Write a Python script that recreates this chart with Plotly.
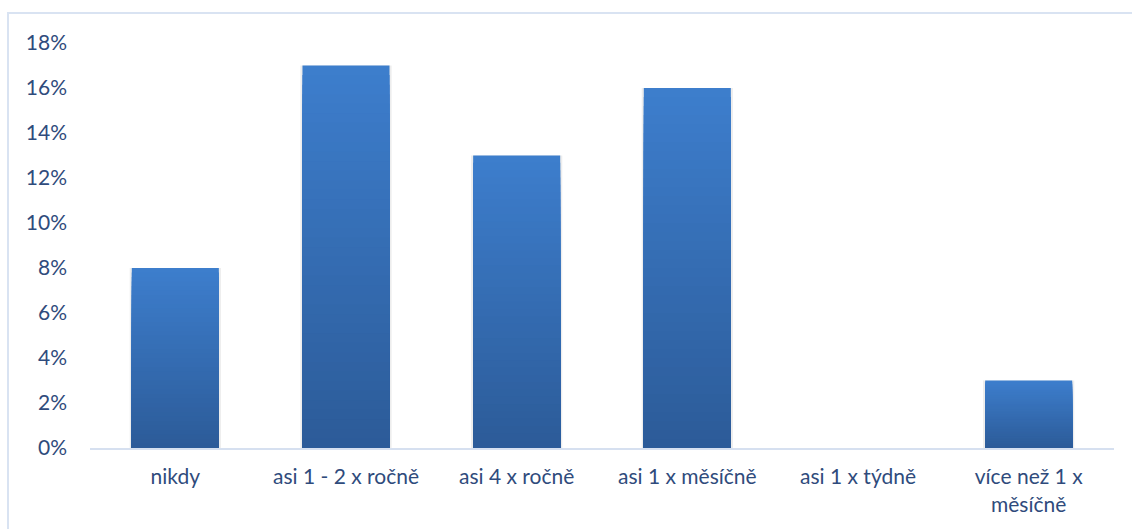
import plotly.graph_objects as go

# Survey answers: how often respondents do the activity (share of respondents)
categories = ["nikdy", "asi 1 - 2 x ročně", "asi 4 x ročně", "asi 1 x měsíčně",
              "asi 1 x týdně", "více než 1 x<br>měsíčně"]
shares = [0.08, 0.17, 0.13, 0.16, 0.0, 0.03]

y_ticks = [0, 0.02, 0.04, 0.06, 0.08, 0.10, 0.12, 0.14, 0.16, 0.18]

# Vertical gradient for the columns: dark blue at the base, lighter at the top
GRAD_BOTTOM = (44, 91, 152)
GRAD_TOP = (61, 126, 205)
N_STEPS = 40

TEXT = "#2F4B7C"
FONT = "Lato, 'Open Sans', sans-serif"
FONT_SIZE = 21

fig = go.Figure()

# soft drop shadow behind each column
fig.add_trace(go.Bar(
    x=categories, y=shares, width=0.535,
    marker=dict(color="rgba(0,0,0,0.07)", line=dict(width=0)),
    hoverinfo="skip", showlegend=False,
))


def mix(t):
    r = [round(b + (a - b) * t) for a, b in zip(GRAD_TOP, GRAD_BOTTOM)]
    return f"rgb({r[0]},{r[1]},{r[2]})"


# overlaid columns, tallest (lightest) first, each shorter one darker on top,
# so every column shows a smooth bottom-to-top gradient without seams
for i in range(N_STEPS):
    frac = (N_STEPS - i) / N_STEPS
    t = (N_STEPS - i - 0.5) / N_STEPS
    fig.add_trace(go.Bar(
        x=categories,
        y=[v * frac for v in shares],
        width=0.51,
        marker=dict(color=mix(t), line=dict(width=0)),
        customdata=shares,
        hovertemplate="%{x}: %{customdata:.0%}<extra></extra>",
        hoverinfo="skip" if i else None,
        showlegend=False,
    ))

fig.update_layout(
    width=1132, height=529,
    margin=dict(l=90, r=18, t=43, b=81),
    paper_bgcolor="white", plot_bgcolor="white",
    barmode="overlay",
    font=dict(family=FONT, size=FONT_SIZE, color=TEXT),
    xaxis=dict(
        type="category", showgrid=False, zeroline=False,
        showline=True, linecolor="#D6E0F0", linewidth=2,
        ticks="", ticklabelstandoff=9,
        tickfont=dict(family=FONT, size=FONT_SIZE, color=TEXT),
    ),
    yaxis=dict(
        range=[0, 0.18], tickvals=y_ticks, tickformat=".0%",
        showgrid=False, zeroline=False, showline=False,
        ticks="", ticklabelstandoff=22,
        tickfont=dict(family=FONT, size=FONT_SIZE, color=TEXT),
    ),
    shapes=[dict(
        type="rect", xref="paper", yref="paper",
        x0=(8 - 90) / 1024, x1=(1140 - 90) / 1024,
        y0=-(540 - 448) / 405, y1=1 + (43 - 13) / 405,
        line=dict(color="#D9E3F2", width=2), fillcolor="rgba(0,0,0,0)",
        layer="below",
    )],
)

fig.write_html("out.html")
